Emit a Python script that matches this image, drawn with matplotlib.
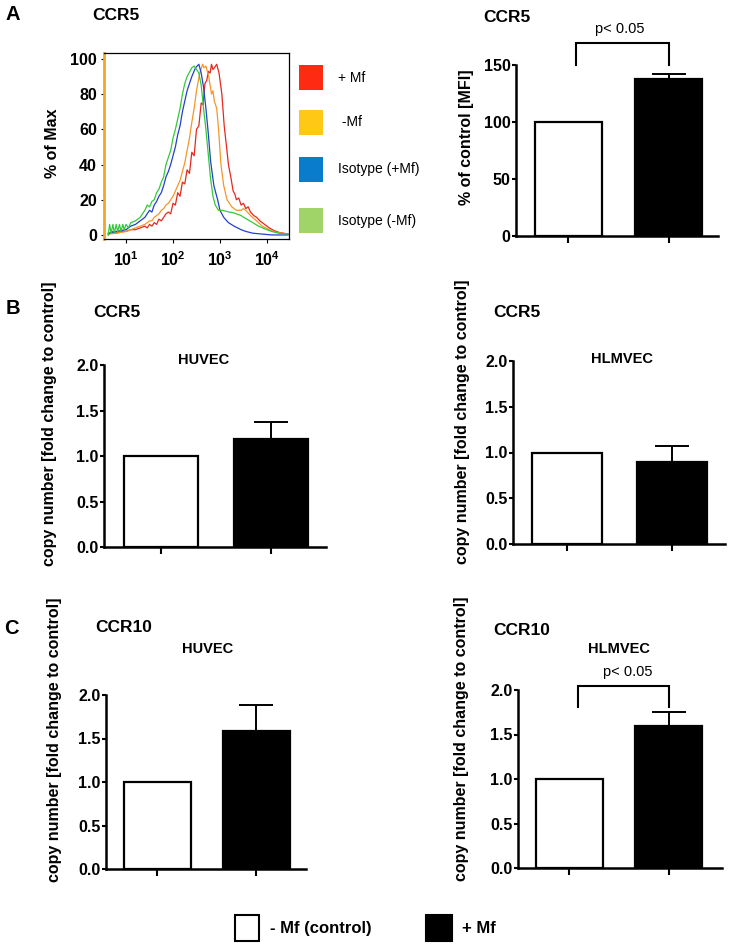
import numpy as np
import matplotlib
matplotlib.use('Agg')
import matplotlib.pyplot as plt
from matplotlib.patches import Rectangle
from matplotlib.ticker import LogLocator, NullFormatter

plt.rcParams['font.family'] = ['Liberation Sans', 'DejaVu Sans']
plt.rcParams['mathtext.fontset'] = 'custom'
plt.rcParams['mathtext.rm'] = 'Liberation Sans'
plt.rcParams['mathtext.bf'] = 'Liberation Sans:bold'

W, H = 729, 946

# ---- panel A: flow cytometry histogram (log10 intensity, % of max) ----
hist_labels = ['+ Mf', ' -Mf', 'Isotype (+Mf)', 'Isotype (-Mf)']
hist_line_colors = ['#e8281e', '#f5962a', '#2340d0', '#33c93a']
hist_patch_colors = ['#ff2a12', '#ffc814', '#0a7ccc', '#a0d468']

plus_mf_log = [0.62, 0.70, 0.80, 0.90, 1.00, 1.10, 1.20, 1.30, 1.40, 1.45, 1.50, 1.55, 1.60,
               1.65, 1.70, 1.75, 1.80, 1.85, 1.90, 1.95, 2.00, 2.05, 2.10, 2.15, 2.20, 2.25,
               2.30, 2.35, 2.40, 2.45, 2.50, 2.55, 2.60, 2.64, 2.68, 2.72, 2.75, 2.79, 2.82,
               2.85, 2.88, 2.93, 2.98, 3.04, 3.09, 3.14, 3.18, 3.23, 3.28, 3.32, 3.35, 3.40,
               3.45, 3.50, 3.55, 3.60, 3.65, 3.72, 3.78, 3.85, 3.90, 4.05, 4.15, 4.25, 4.35,
               4.45]
plus_mf_pct = [0, 2, 1, 2, 2, 3, 3, 4, 5, 4, 6, 5, 7,
               6, 9, 8, 10, 12, 13, 12, 18, 17, 24, 22, 30, 29,
               37, 35, 47, 45, 60, 62, 75, 74, 86, 88, 93, 92, 97,
               94, 95, 97, 92, 80, 62, 50, 40, 33, 25, 23, 20, 21,
               17, 18, 15, 16, 13, 11, 10, 8, 7, 4, 2.5, 1.5, 1,
               0.5]

minus_mf_log = [0.62, 0.80, 1.00, 1.20, 1.40, 1.45, 1.50, 1.55, 1.60, 1.65, 1.70, 1.75, 1.80,
                1.85, 1.90, 1.95, 2.00, 2.05, 2.10, 2.15, 2.20, 2.25, 2.30, 2.35, 2.40, 2.45,
                2.50, 2.57, 2.63, 2.66, 2.70, 2.76, 2.82, 2.85, 2.88, 2.93, 2.97, 3.02, 3.08,
                3.15, 3.25, 3.35, 3.45, 3.50, 3.55, 3.65, 3.78, 3.90, 4.05, 4.20, 4.45]
minus_mf_pct = [0.5, 1, 2, 4, 6, 7, 8, 8, 10, 11, 12, 14, 15,
                17, 18, 20, 22, 25, 28, 31, 36, 41, 48, 55, 64, 72,
                82, 92, 97, 95, 96, 90, 80, 82, 76, 72, 60, 40, 28,
                20, 16, 14, 14, 15, 14, 11, 8, 5, 3, 1.5, 0.5]

iso_plus_log = [0.62, 0.80, 1.00, 1.10, 1.20, 1.30, 1.40, 1.45, 1.50, 1.55, 1.60, 1.65, 1.70,
                1.75, 1.80, 1.85, 1.90, 1.95, 2.00, 2.05, 2.10, 2.15, 2.20, 2.25, 2.30, 2.35,
                2.40, 2.48, 2.55, 2.60, 2.65, 2.70, 2.75, 2.80, 2.87, 2.95, 3.00, 3.08, 3.18,
                3.30, 3.45, 3.55, 3.70, 3.90, 4.10, 4.45]
iso_plus_pct = [1, 2, 3, 5, 6, 8, 10, 12, 14, 13, 17, 19, 22,
                24, 28, 33, 36, 40, 45, 50, 57, 62, 70, 76, 82, 86,
                90, 95, 97, 92, 84, 72, 58, 42, 28, 20, 14, 10, 7,
                5, 3, 2, 1, 0.5, 0, 0]

iso_minus_log = [0.62, 0.65, 0.68, 0.72, 0.75, 0.79, 0.82, 0.86, 0.89, 0.93, 0.96, 1.00, 1.05,
                 1.10, 1.20, 1.30, 1.40, 1.45, 1.50, 1.55, 1.60, 1.65, 1.70, 1.75, 1.80, 1.85,
                 1.90, 1.95, 2.00, 2.05, 2.10, 2.15, 2.20, 2.25, 2.30, 2.40, 2.45, 2.50, 2.55,
                 2.60, 2.65, 2.70, 2.75, 2.80, 2.85, 2.90, 2.97, 3.05, 3.20, 3.30, 3.45, 3.57,
                 3.70, 3.82, 3.95, 4.10, 4.25, 4.45]
iso_minus_pct = [0, 6, 1, 6, 1, 6, 2, 6, 2, 6, 3, 6, 4,
                 7, 8, 10, 14, 17, 16, 19, 20, 24, 26, 30, 33, 40,
                 44, 48, 55, 60, 66, 72, 80, 86, 90, 95, 96, 94, 92,
                 85, 72, 60, 46, 32, 22, 17, 14, 14, 13, 12.5, 11, 9,
                 7, 5, 3.5, 2, 1, 0.5]

hist_logs = [plus_mf_log, minus_mf_log, iso_plus_log, iso_minus_log]
hist_pcts = [plus_mf_pct, minus_mf_pct, iso_plus_pct, iso_minus_pct]

# ---- bar panels (control vs + Mf) ----
groups = ['- Mf (control)', '+ Mf']
mfi_ccr5 = [100, 138]
mfi_ccr5_err = [0, 4]
ccr5_huvec = [1.0, 1.19]
ccr5_huvec_err = [0, 0.18]
ccr5_hlmvec = [1.0, 0.90]
ccr5_hlmvec_err = [0, 0.17]
ccr10_huvec = [1.0, 1.59]
ccr10_huvec_err = [0, 0.30]
ccr10_hlmvec = [1.0, 1.59]
ccr10_hlmvec_err = [0, 0.16]


def px_axes(fig, left, top, right, bottom):
    return fig.add_axes([left / W, 1 - bottom / H, (right - left) / W, (bottom - top) / H])


def bold_ticks(ax, size=11.5):
    for lbl in ax.get_xticklabels() + ax.get_yticklabels():
        lbl.set_fontweight('bold')
        lbl.set_fontsize(size)


def bar_panel(ax, vals, errs, ymax, yticks, fmt, xmax=1.5):
    x = np.arange(len(vals))
    ax.bar(x, vals, width=0.67, color=['white', 'black'], edgecolor='black',
           linewidth=1.6, zorder=3)
    ax.errorbar(x[1:], vals[1:], yerr=[[0], [errs[1]]], fmt='none', ecolor='black',
                elinewidth=1.4, capsize=12, capthick=1.4, zorder=2)
    ax.set_xlim(-0.52, xmax)
    ax.set_ylim(0, ymax)
    for s in ['top', 'right']:
        ax.spines[s].set_visible(False)
    for s in ['left', 'bottom']:
        ax.spines[s].set_linewidth(1.8)
    ax.set_xticks(x)
    ax.set_xticklabels([])
    ax.set_yticks(yticks)
    ax.set_yticklabels([fmt % v for v in yticks])
    ax.tick_params(axis='x', length=5, width=1.5, direction='out')
    ax.tick_params(axis='y', length=3, width=1.5, pad=1)
    bold_ticks(ax)
    ax.patch.set_alpha(0)


def bracket(ax, x0, x1, y_top, y_leg, label, tx, ty):
    ax.plot([x0, x0, x1, x1], [y_leg, y_top, y_top, y_leg], color='black', lw=1.5,
            clip_on=False, solid_joinstyle='miter')
    ax.text(tx, ty, label, ha='center', va='center', fontsize=10.5)


fig = plt.figure(figsize=(W / 100, H / 100), dpi=100)

# histogram
axh = px_axes(fig, 104, 53, 289, 239)
for logs, pcts, c in zip(hist_logs, hist_pcts, hist_line_colors):
    axh.plot(10 ** np.array(logs), pcts, color=c, lw=0.9)
axh.set_xscale('log')
axh.set_xlim(10 ** 0.53, 10 ** 4.47)
axh.set_ylim(-2.3, 103.4)
axh.set_xticks([10, 100, 1000, 10000])
axh.set_xticklabels([r'$\mathbf{10^{%d}}$' % k for k in range(1, 5)])
axh.xaxis.set_minor_locator(LogLocator(base=10, subs=np.arange(2, 10)))
axh.xaxis.set_minor_formatter(NullFormatter())
axh.set_yticks(range(0, 101, 20))
axh.tick_params(axis='x', which='major', length=3, width=0.8, pad=5, labelsize=12)
axh.tick_params(axis='x', which='minor', length=2, width=0.6)
axh.tick_params(axis='y', length=2, width=0.8, pad=3)
bold_ticks(axh, 11.5)
for s in axh.spines.values():
    s.set_linewidth(0.9)
axh.spines['left'].set_color('#f5a623')
axh.spines['left'].set_linewidth(2)

# panel A bar chart
axa = px_axes(fig, 516, 65, 718, 236)
bar_panel(axa, mfi_ccr5, mfi_ccr5_err, 150, [0, 50, 100, 150], '%d', xmax=1.49)
bracket(axa, 0.08, 1.0, 169, 150, 'p< 0.05', 0.51, 182)

# panel B
axb1 = px_axes(fig, 104, 365, 326, 547)
bar_panel(axb1, ccr5_huvec, ccr5_huvec_err, 2.0, [0, 0.5, 1.0, 1.5, 2.0], '%.1f')
axb2 = px_axes(fig, 513, 361, 725, 544)
bar_panel(axb2, ccr5_hlmvec, ccr5_hlmvec_err, 2.0, [0, 0.5, 1.0, 1.5, 2.0], '%.1f', xmax=1.51)

# panel C
axc1 = px_axes(fig, 106, 695, 306, 869)
bar_panel(axc1, ccr10_huvec, ccr10_huvec_err, 2.0, [0, 0.5, 1.0, 1.5, 2.0], '%.1f')
axc2 = px_axes(fig, 518, 690, 722, 868)
bar_panel(axc2, ccr10_hlmvec, ccr10_hlmvec_err, 2.0, [0, 0.5, 1.0, 1.5, 2.0], '%.1f', xmax=1.54)
bracket(axc2, 0.09, 1.0, 2.05, 1.81, 'p< 0.05', 0.59, 2.2)

# overlay for labels, titles, legends (pixel coordinates)
ov = fig.add_axes([0, 0, 1, 1])
ov.set_xlim(0, W)
ov.set_ylim(H, 0)
ov.axis('off')


def label(x, y, s, size=12, weight='bold', ha='left', rot=0):
    ov.text(x, y, s, fontsize=size, fontweight=weight, ha=ha, va='center', rotation=rot)


label(6, 15, 'A', 14.5)
label(92, 16, 'CCR5', 12.5)
label(483, 18, 'CCR5', 12.5)
label(6, 308, 'B', 14.5)
label(93, 312, 'CCR5', 12.5)
label(493, 312, 'CCR5', 12.5)
label(4, 628, 'C', 14.5)
label(95, 627, 'CCR10', 12.5)
label(493, 630, 'CCR10', 12.5)
label(204, 360, 'HUVEC', 10.5, ha='center')
label(622, 359, 'HLMVEC', 10.5, ha='center')
label(208, 649, 'HUVEC', 10.5, ha='center')
label(619, 649, 'HLMVEC', 10.5, ha='center')

cn = 'copy number [fold change to control]'
label(53, 143, '% of Max', 11.5, ha='center', rot=90)
label(467, 137, '% of control [MFI]', 11.5, ha='center', rot=90)
label(50, 424, cn, 11.5, ha='center', rot=90)
label(463, 422, cn, 11.5, ha='center', rot=90)
label(55, 740, cn, 11.5, ha='center', rot=90)
label(462, 739, cn, 11.5, ha='center', rot=90)

# histogram legend
for i, (name, c) in enumerate(zip(hist_labels, hist_patch_colors)):
    top = [65, 110, 157, 208][i]
    ov.add_patch(Rectangle((299, top), 24, 25, facecolor=c, edgecolor='none'))
    label(338, top + 12.5, name, 10, weight='normal')

# bottom legend
ov.add_patch(Rectangle((235, 915), 24, 26, facecolor='white', edgecolor='black', lw=1.5))
label(270, 928, groups[0], 12)
ov.add_patch(Rectangle((426, 915), 26, 26, facecolor='black', edgecolor='black', lw=1.5))
label(462, 928, groups[1], 12)

fig.savefig('out.png', dpi=100)
